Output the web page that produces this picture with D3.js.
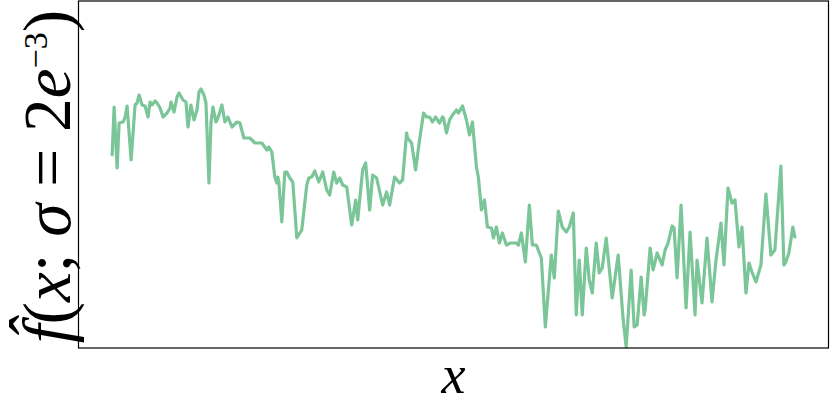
<!DOCTYPE html>
<html lang="en">
<head>
    <meta charset="UTF-8" />
    <title>Kernel density estimate</title>
    <script src="https://d3js.org/d3.v7.min.js"></script>
    <style>
        body {
            margin: 0;
            background: #fff;
        }
    </style>
</head>
<body>
<svg id="chart"></svg>

<script>
    // sample positions along x (arbitrary units)
    const xs = [
        0, 2, 5, 7, 11, 13, 15, 19, 23, 25,
        27, 30, 33, 36, 38, 40, 43, 45, 48, 51,
        55, 58, 59, 62, 65, 67, 71, 74, 76, 79,
        82, 85, 87, 89, 92, 94, 97, 99, 101, 104,
        106, 110, 113, 116, 120, 125, 128, 132, 138, 143,
        150, 155, 157, 160, 163, 165, 166, 167, 170, 173,
        175, 178, 181, 185, 190, 195, 197, 200, 203, 207,
        211, 215, 218, 222, 225, 228, 231, 235, 240, 244,
        246, 251, 254, 258, 261, 265, 271, 275, 278, 283,
        288, 291, 295, 296, 300, 304, 308, 312, 315, 318,
        321, 324, 328, 331, 332, 335, 338, 341, 345, 347,
        351, 355, 358, 361, 365, 367, 370, 373, 376, 380,
        382, 385, 388, 391, 395, 399, 405, 407, 410, 414,
        418, 421, 425, 430, 434, 440, 443, 447, 451, 455,
        458, 462, 465, 468, 471, 475, 478, 481, 485, 488,
        491, 495, 501, 507, 512, 515, 520, 523, 526, 530,
        533, 534, 539, 542, 546, 551, 554, 557, 561, 563,
        566, 570, 575, 579, 584, 586, 591, 596, 601, 605,
        610, 613, 617, 621, 624, 628, 631, 635, 638, 641,
        645, 650, 655, 660, 664, 670, 673, 675, 678, 682,
        684
    ];

    // estimated density f-hat at each sample (arbitrary units)
    const fhat = [
        193, 241, 180, 225, 226, 231, 242, 188, 243, 245,
        253, 243, 242, 231, 246, 243, 247, 245, 240, 231,
        235, 240, 246, 236, 251, 255, 248, 246, 221, 243,
        228, 238, 256, 259, 253, 245, 165, 225, 241, 226,
        230, 243, 226, 231, 221, 226, 225, 210, 210, 205,
        205, 198, 201, 196, 171, 165, 171, 166, 126, 176,
        176, 170, 166, 110, 118, 163, 170, 171, 177, 166,
        176, 158, 153, 176, 165, 170, 163, 161, 123, 148,
        128, 178, 185, 138, 173, 170, 143, 156, 143, 171,
        165, 168, 215, 210, 205, 178, 208, 235, 231, 231,
        226, 231, 225, 231, 230, 215, 228, 233, 238, 235,
        242, 228, 213, 226, 181, 170, 138, 148, 121, 120,
        110, 121, 105, 115, 103, 105, 105, 103, 115, 86,
        143, 103, 103, 90, 21, 93, 70, 137, 121, 116,
        121, 135, 33, 88, 33, 100, 68, 55, 105, 75,
        80, 110, 50, 93, 28, 1, 78, 21, 23, 71,
        33, 38, 100, 78, 95, 83, 98, 105, 122, 120,
        70, 143, 40, 116, 33, 88, 45, 110, 46, 88,
        125, 83, 160, 145, 148, 101, 121, 55, 85, 76,
        66, 83, 154, 93, 98, 182, 83, 86, 95, 121,
        111
    ];

    const yLimits = [0, 347];

    const width = 830;
    const height = 406;
    const margin = { top: 1, right: 1, bottom: 58, left: 78 };
    const serif = "'Liberation Serif', serif";

    const svg = d3.select("#chart")
        .attr("width", width)
        .attr("height", height);

    const data = xs.map((x, i) => ({ x: x, y: fhat[i] }));

    const [x0, x1] = d3.extent(xs);
    const pad = (x1 - x0) * 0.05;

    const x = d3.scaleLinear()
        .domain([x0 - pad, x1 + pad])
        .range([margin.left, width - margin.right]);

    const y = d3.scaleLinear()
        .domain(yLimits)
        .range([height - margin.bottom, margin.top]);

    const line = d3.line()
        .x(d => x(d.x))
        .y(d => y(d.y));

    svg.append("path")
        .datum(data)
        .attr("fill", "none")
        .attr("stroke", "#7bc698")
        .attr("stroke-width", 3.2)
        .attr("stroke-linejoin", "round")
        .attr("stroke-linecap", "round")
        .attr("d", line);

    // frame
    svg.append("rect")
        .attr("x", margin.left + 0.5)
        .attr("y", margin.top)
        .attr("width", width - margin.left - margin.right - 1)
        .attr("height", height - margin.top - margin.bottom)
        .attr("fill", "none")
        .attr("stroke", "#000")
        .attr("stroke-width", 1.2);

    // x label
    svg.append("text")
        .attr("x", (margin.left + width - margin.right) / 2)
        .attr("y", 393)
        .attr("text-anchor", "middle")
        .attr("font-family", serif)
        .attr("font-size", 54)
        .attr("font-style", "italic")
        .text("x");

    // y label: f-hat(x; sigma = 2e^-3)
    const ylab = svg.append("text")
        .attr("transform", `translate(70,${(margin.top + height - margin.bottom) / 2 + 2}) rotate(-90)`)
        .attr("text-anchor", "middle")
        .attr("font-family", serif)
        .attr("font-size", 50);

    ylab.append("tspan").attr("font-style", "italic").text("f\u0302");
    ylab.append("tspan").text("(");
    ylab.append("tspan").attr("font-style", "italic").text("x");
    ylab.append("tspan").text("; ");
    ylab.append("tspan").attr("font-style", "italic").text("\u03c3");
    ylab.append("tspan").text(" = 2");
    ylab.append("tspan").attr("font-style", "italic").text("e");
    ylab.append("tspan").attr("font-size", 34).attr("dy", -23).text("\u22123");
    ylab.append("tspan").attr("dy", 23).text(")");

    // fit the label to the height of the axes
    const len = ylab.node().getComputedTextLength();
    ylab.attr("font-size", 50 * 346 / len);
</script>
</body>
</html>
